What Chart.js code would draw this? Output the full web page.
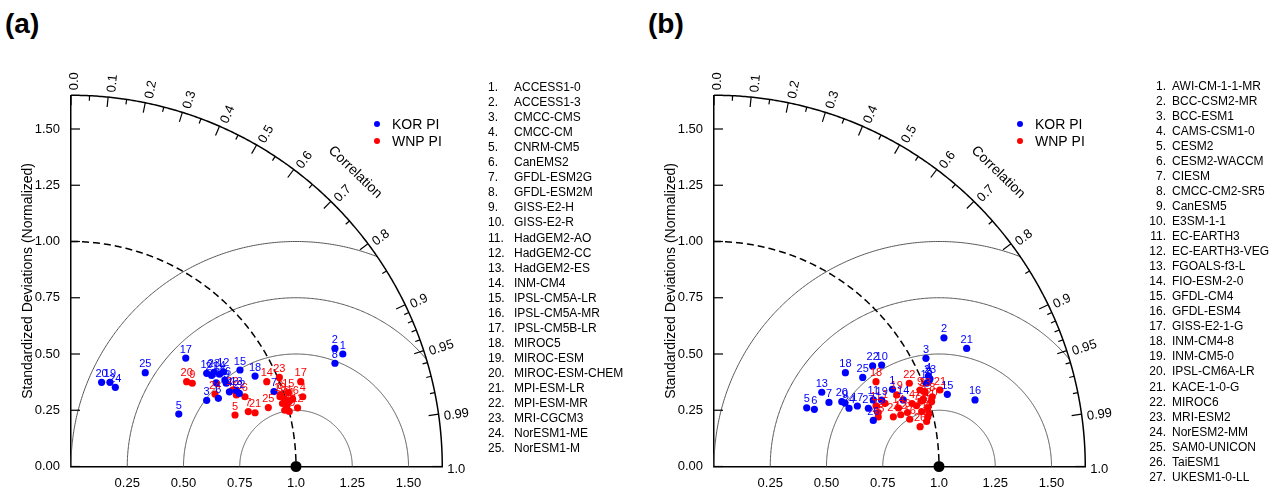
<!DOCTYPE html>
<html>
<head>
<meta charset="utf-8">
<script src="https://cdn.jsdelivr.net/npm/chart.js@4.4.0/dist/chart.umd.min.js"></script>
<style>
body { margin: 0; background: #fff; width: 1285px; height: 490px; position: relative; overflow: hidden; font-family: 'Liberation Sans', Arial, sans-serif; color: #000; }
canvas { position: absolute; top: 0; }
.tag { position: absolute; top: 8px; font-weight: bold; font-size: 28px; }
.list { position: absolute; font-size: 12px; }
.row { position: absolute; height: 15px; line-height: 15px; white-space: nowrap; }
.num { position: absolute; }
.name { position: absolute; }
</style>
</head>
<body>
<div class="tag" style="left:5px">(a)</div>
<div class="tag" style="left:648px">(b)</div>
<canvas id="chart-a" width="640" height="490" style="left:0"></canvas>
<canvas id="chart-b" width="642" height="490" style="left:643px"></canvas>
<div class="list" id="list-a"></div>
<div class="list" id="list-b"></div>
<script>
// model names
const modelsA = ['ACCESS1-0', 'ACCESS1-3', 'CMCC-CMS', 'CMCC-CM', 'CNRM-CM5', 'CanEMS2', 'GFDL-ESM2G', 'GFDL-ESM2M',
    'GISS-E2-H', 'GISS-E2-R', 'HadGEM2-AO', 'HadGEM2-CC', 'HadGEM2-ES', 'INM-CM4', 'IPSL-CM5A-LR', 'IPSL-CM5A-MR',
    'IPSL-CM5B-LR', 'MIROC5', 'MIROC-ESM', 'MIROC-ESM-CHEM', 'MPI-ESM-LR', 'MPI-ESM-MR', 'MRI-CGCM3', 'NorESM1-ME', 'NorESM1-M'];
const modelsB = ['AWI-CM-1-1-MR', 'BCC-CSM2-MR', 'BCC-ESM1', 'CAMS-CSM1-0', 'CESM2', 'CESM2-WACCM', 'CIESM', 'CMCC-CM2-SR5',
    'CanESM5', 'E3SM-1-1', 'EC-EARTH3', 'EC-EARTH3-VEG', 'FGOALS-f3-L', 'FIO-ESM-2-0', 'GFDL-CM4', 'GFDL-ESM4',
    'GISS-E2-1-G', 'INM-CM4-8', 'INM-CM5-0', 'IPSL-CM6A-LR', 'KACE-1-0-G', 'MIROC6', 'MRI-ESM2', 'NorESM2-MM',
    'SAM0-UNICON', 'TaiESM1', 'UKESM1-0-LL'];

// normalized std as [x = std*corr, y = std*sin] per model
const korA = [[1.208, 0.500], [1.173, 0.525], [0.603, 0.294], [0.704, 0.332], [0.479, 0.233], [0.655, 0.303],
    [0.902, 0.333], [1.173, 0.459], [0.690, 0.370], [0.603, 0.414], [0.645, 0.372], [0.677, 0.421], [0.735, 0.338],
    [0.660, 0.410], [0.751, 0.429], [0.684, 0.384], [0.510, 0.482], [0.818, 0.402], [0.173, 0.374], [0.136, 0.374],
    [0.625, 0.405], [0.748, 0.325], [0.635, 0.418], [0.197, 0.352], [0.330, 0.417]];
const wnpA = [[0.950, 0.300], [0.940, 0.280], [0.960, 0.270], [1.030, 0.310], [0.729, 0.229], [0.773, 0.310],
    [0.788, 0.244], [0.930, 0.320], [0.539, 0.370], [0.929, 0.310], [0.970, 0.290], [1.007, 0.261], [0.735, 0.318],
    [0.870, 0.377], [0.966, 0.328], [0.985, 0.300], [1.021, 0.377], [0.950, 0.250], [0.970, 0.245], [0.514, 0.377],
    [0.818, 0.239], [0.718, 0.340], [0.926, 0.396], [0.640, 0.322], [0.877, 0.262]];
const korB = [[0.793, 0.343], [1.022, 0.572], [0.942, 0.481], [0.953, 0.402], [0.412, 0.261], [0.446, 0.254],
    [0.511, 0.285], [0.956, 0.381], [0.582, 0.282], [0.745, 0.451], [0.708, 0.296], [0.945, 0.370], [0.479, 0.330],
    [0.841, 0.296], [1.037, 0.321], [1.160, 0.296], [0.637, 0.269], [0.584, 0.417], [0.745, 0.295], [0.568, 0.288],
    [1.123, 0.525], [0.705, 0.447], [0.960, 0.390], [0.600, 0.259], [0.661, 0.396], [0.708, 0.205], [0.686, 0.259]];
const wnpB = [[0.760, 0.281], [0.930, 0.300], [0.950, 0.220], [0.880, 0.280], [0.945, 0.200], [0.860, 0.240],
    [0.900, 0.270], [0.970, 0.310], [0.916, 0.340], [0.950, 0.260], [0.720, 0.270], [0.830, 0.230], [0.730, 0.240],
    [0.820, 0.260], [0.920, 0.290], [0.870, 0.210], [0.923, 0.244], [0.720, 0.377], [0.812, 0.318], [0.967, 0.288],
    [1.004, 0.340], [0.868, 0.370], [0.938, 0.332], [0.797, 0.221], [0.730, 0.220], [0.916, 0.177], [0.955, 0.235]];

// axis / diagram ticks
const stdMax = 1.65;
const stdTicks = [0, 0.25, 0.5, 0.75, 1, 1.25, 1.5];
const corrLabels = [0, 0.1, 0.2, 0.3, 0.4, 0.5, 0.6, 0.7, 0.8, 0.9, 0.95, 0.99, 1.0];
const corrMinor = [0.05, 0.15, 0.25, 0.35, 0.45, 0.55, 0.65, 0.75, 0.85, 0.91, 0.92, 0.93, 0.94, 0.96, 0.97, 0.98];
const rmsRadii = [0.25, 0.5, 0.75, 1.0];

const blue = '#0000ff';
const red = '#ff0000';
const font = "'Liberation Sans', Arial, sans-serif";

const taylorFrame = {
    id: 'taylorFrame',
    beforeDatasetsDraw(chart) {
        const { ctx, scales: { x, y } } = chart;
        const px = (v) => x.getPixelForValue(v);
        const py = (v) => y.getPixelForValue(v);
        ctx.save();

        // centred RMS arcs
        ctx.strokeStyle = '#555';
        ctx.lineWidth = 1;
        rmsRadii.forEach(r => {
            ctx.beginPath();
            let on = false;
            for (let i = 0; i <= 400; i++) {
                const a = Math.PI * i / 400;
                const vx = 1 + r * Math.cos(a), vy = r * Math.sin(a);
                if (vx >= 0 && vx * vx + vy * vy <= stdMax * stdMax) {
                    on ? ctx.lineTo(px(vx), py(vy)) : ctx.moveTo(px(vx), py(vy));
                    on = true;
                } else on = false;
            }
            ctx.stroke();
        });

        // reference std arc
        ctx.strokeStyle = '#000';
        ctx.lineWidth = 1.5;
        ctx.setLineDash([7, 4]);
        ctx.beginPath();
        for (let i = 0; i <= 200; i++) {
            const a = Math.PI / 2 * i / 200;
            i ? ctx.lineTo(px(Math.sin(a)), py(Math.cos(a))) : ctx.moveTo(px(Math.sin(a)), py(Math.cos(a)));
        }
        ctx.stroke();
        ctx.setLineDash([]);

        // outer correlation arc
        ctx.beginPath();
        for (let i = 0; i <= 300; i++) {
            const a = Math.PI / 2 * i / 300;
            i ? ctx.lineTo(px(stdMax * Math.cos(a)), py(stdMax * Math.sin(a))) : ctx.moveTo(px(stdMax), py(0));
        }
        ctx.stroke();

        // correlation ticks (inward)
        const R = px(stdMax) - px(0);
        const tick = (c, len) => {
            const a = Math.acos(c);
            const ox = px(0), oy = py(0);
            ctx.beginPath();
            ctx.moveTo(ox + R * Math.cos(a), oy - R * Math.sin(a));
            ctx.lineTo(ox + (R - len) * Math.cos(a), oy - (R - len) * Math.sin(a));
            ctx.stroke();
        };
        ctx.lineWidth = 1.2;
        corrLabels.forEach(c => tick(c, 10));
        corrMinor.forEach(c => tick(c, 5));

        // std ticks on y axis (inward)
        stdTicks.forEach(s => {
            ctx.beginPath();
            ctx.moveTo(px(0), py(s));
            ctx.lineTo(px(0) + 9, py(s));
            ctx.stroke();
        });

        // correlation labels
        ctx.fillStyle = '#000';
        ctx.font = '13px ' + font;
        ctx.textAlign = 'left';
        ctx.textBaseline = 'middle';
        corrLabels.forEach(c => {
            const a = Math.acos(c);
            ctx.save();
            ctx.translate(px(0) + R * Math.cos(a), py(0) - R * Math.sin(a));
            ctx.rotate(-a);
            const txt = (c === 0.95 || c === 0.99) ? String(c) : c.toFixed(1);
            ctx.fillText(txt, 5, 3);
            ctx.restore();
        });

        // axis name along the arc
        const ca = 46 * Math.PI / 180;
        ctx.save();
        ctx.translate(px(1.818 * Math.cos(ca)), py(1.818 * Math.sin(ca)));
        ctx.rotate(Math.PI / 2 - ca);
        ctx.font = '14px ' + font;
        ctx.textAlign = 'center';
        ctx.fillText('Correlation', 0, 0);
        ctx.restore();

        ctx.restore();
    },
    afterDatasetsDraw(chart) {
        const { ctx } = chart;
        ctx.save();
        // model numbers next to the points
        ctx.font = '11px ' + font;
        ctx.textAlign = 'center';
        ctx.textBaseline = 'middle';
        [1, 0].forEach(d => {
            const meta = chart.getDatasetMeta(d);
            ctx.fillStyle = chart.data.datasets[d].backgroundColor;
            meta.data.forEach((pt, i) => ctx.fillText(String(i + 1), pt.x, pt.y - 8.5));
        });

        // legend
        ctx.font = '14px ' + font;
        ctx.textAlign = 'left';
        [0, 1].forEach(d => {
            const ds = chart.data.datasets[d];
            const ly = 124 + d * 17;
            ctx.fillStyle = ds.backgroundColor;
            ctx.beginPath();
            ctx.arc(377, ly, 3, 0, Math.PI * 2);
            ctx.fill();
            ctx.fillStyle = '#000';
            ctx.fillText(ds.label, 392, ly + 1);
        });
        ctx.restore();
    }
};

const taylorChart = (id, kor, wnp, width) => {
    const toXY = (arr) => arr.map(p => ({ x: p[0], y: p[1] }));
    const axisTicks = (isX) => ({
        stepSize: 0.25,
        includeBounds: false,
        autoSkip: false,
        maxRotation: 0,
        padding: isX ? 9 : 11,
        color: '#000',
        font: { size: 13, family: font },
        callback: (v) => isX ? (v === 0 ? '' : (v === 1 ? '1.0' : v.toFixed(2))) : v.toFixed(2)
    });
    return new Chart(document.getElementById(id), {
        type: 'scatter',
        data: {
            datasets: [
                { label: 'KOR PI', data: toXY(kor), backgroundColor: blue, borderColor: blue, borderWidth: 0, pointRadius: 3.6, pointHoverRadius: 3.6 },
                { label: 'WNP PI', data: toXY(wnp), backgroundColor: red, borderColor: red, borderWidth: 0, pointRadius: 3.6, pointHoverRadius: 3.6 },
                { label: 'ref', data: [{ x: 1, y: 0 }], backgroundColor: '#000', borderWidth: 0, pointRadius: 5.5, clip: false }
            ]
        },
        options: {
            responsive: false,
            animation: false,
            events: [],
            layout: { padding: { left: 0, top: 95.25, right: width - 71 - stdMax * 225, bottom: 0 } },
            plugins: { legend: { display: false }, tooltip: { enabled: false } },
            scales: {
                x: {
                    type: 'linear', min: 0, max: stdMax,
                    afterFit: (s) => { s.height = 23.5; },
                    grid: { display: false, drawTicks: false },
                    border: { color: '#000', width: 1.5 },
                    ticks: axisTicks(true)
                },
                y: {
                    type: 'linear', min: 0, max: stdMax,
                    afterFit: (s) => { s.width = 71; },
                    grid: { display: false, drawTicks: false },
                    border: { color: '#000', width: 1.5 },
                    ticks: axisTicks(false),
                    title: {
                        display: true, text: 'Standardized Deviations (Normalized)', color: '#000',
                        font: { size: 14, family: font }, padding: { top: 20, bottom: 0 }
                    }
                }
            }
        },
        plugins: [taylorFrame]
    });
};

const fillList = (id, names, left, numRight, numLeft, nameLeft, top) => {
    const box = document.getElementById(id);
    box.style.left = left + 'px';
    box.style.top = top + 'px';
    names.forEach((n, i) => {
        const row = document.createElement('div');
        row.className = 'row';
        row.style.top = (i * 15.05) + 'px';
        const num = document.createElement('span');
        num.className = 'num';
        num.textContent = (i + 1) + '.';
        if (numRight) { num.style.right = (-numLeft) + 'px'; num.style.textAlign = 'right'; }
        else num.style.left = numLeft + 'px';
        const nm = document.createElement('span');
        nm.className = 'name';
        nm.style.left = nameLeft + 'px';
        nm.textContent = n;
        row.appendChild(num);
        row.appendChild(nm);
        box.appendChild(row);
    });
};

taylorChart('chart-a', korA, wnpA, 640);
taylorChart('chart-b', korB, wnpB, 642);
fillList('list-a', modelsA, 488, false, 0, 26, 80);
fillList('list-b', modelsB, 1148, true, 18, 24, 78.5);
</script>
</body>
</html>
